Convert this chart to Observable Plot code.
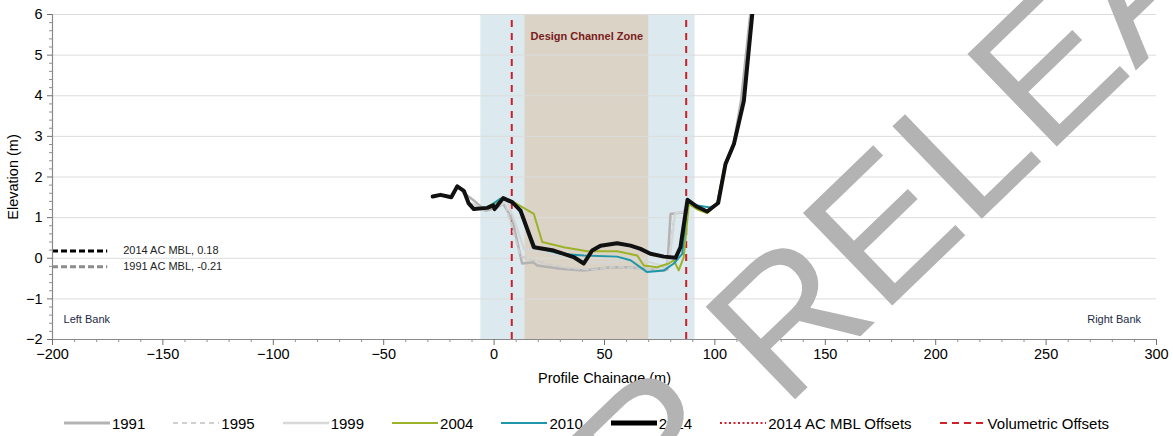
<!DOCTYPE html>
<html>
<head>
<meta charset="utf-8">
<script src="https://cdn.jsdelivr.net/npm/d3@7"></script>
<script src="https://cdn.jsdelivr.net/npm/@observablehq/plot@0.6"></script>
<style>
  html, body { margin: 0; padding: 0; background: #fff; }
  #wrap { position: relative; width: 1173px; height: 436px; overflow: hidden; font-family: 'Liberation Sans', Arial, sans-serif; }
  #legend { display: flex; justify-content: center; align-items: center; gap: 28px; height: 26px; padding-top: 10px; font-family: 'Liberation Sans Narrow', 'Arial Narrow', 'Liberation Sans', sans-serif; font-size: 15px; color: #000; }
  .item { display: flex; align-items: center; gap: 2px; }
  #wm { position: absolute; left: 0; top: 0; pointer-events: none; }
</style>
</head>
<body>
<div id="wrap">
  <div id="chart"></div>
  <div id="legend"></div>
</div>
<script>
// ---- Data ----
const xDomain = [-200, 300];
const yDomain = [-2, 6];
const xMajorTicks = [-200, -150, -100, -50, 0, 50, 100, 150, 200, 250, 300];
const yMajorTicks = [-2, -1, 0, 1, 2, 3, 4, 5, 6];

const outerZone = [-6, 91];        // light blue zone (chainage)
const designZone = [14, 70];       // Design Channel Zone (chainage)
const volumetricOffsets = [8, 87];

const mbl2014 = 0.18;
const mbl1991 = -0.21;

// [chainage, elevation]
const s1991 = [[-14,1.62],[-9.2,1.42],[-3.9,1.17],[1.4,1.25],[4,1.35],[8.2,0.97],[12.7,-0.13],[17.9,-0.10],[19.5,-0.18],[30,-0.26],[40.6,-0.30],[52.7,-0.22],[60.3,-0.22],[67.8,-0.26],[76.9,-0.30],[78.4,-0.28],[79.9,1.09],[85.9,1.13],[88.2,1.42],[92,1.30],[96.5,1.13],[101,1.34],[104.5,2.25],[108.3,2.75],[111.8,3.87],[116,6.0]];
const s1995 = [[-6,1.2],[0,1.3],[5,1.35],[9,0.6],[12,0.05],[18,-0.05],[25,-0.15],[35,-0.25],[45,-0.28],[55,-0.2],[65,-0.25],[75,-0.28],[78,-0.2],[80,0.3],[81,0.8],[82,1.1],[86,1.15],[88,1.4]];
const s1999 = [[-10,1.35],[-4,1.2],[2,1.3],[6,1.4],[10,0.8],[13.5,0.23],[19.5,0.19],[30,0.07],[37.6,-0.01],[43.7,-0.10],[52.7,-0.10],[61.8,-0.01],[70.8,-0.10],[78.4,-0.22],[80,0.2],[82,1.1],[86,1.15],[88.2,1.42]];
const s2004 = [[-2,1.3],[4,1.45],[8.9,1.38],[18,1.09],[21.8,0.40],[31.6,0.27],[42.2,0.17],[55.7,0.17],[64.8,0.07],[67.8,-0.18],[73.9,-0.22],[79.1,-0.13],[81.4,-0.05],[83.6,-0.30],[85.9,0.03],[88.2,1.34],[92,1.2],[96.5,1.11],[101,1.34],[104.6,2.35],[108.6,2.8],[113,3.87],[116.9,6.0]];
const s2010 = [[-3,1.25],[2.9,1.47],[8,1.4],[12,1.13],[18.7,0.27],[27,0.15],[30,0.11],[40.6,0.07],[55.7,0.04],[61.8,-0.05],[69.3,-0.34],[76.9,-0.30],[81.4,-0.13],[85.2,0.11],[87.5,1.38],[92,1.3],[98,1.25],[101,1.34],[104.8,2.3],[108.6,2.8],[113,3.87],[116.9,6.0]];
const s2014 = [[-27.8,1.52],[-24.3,1.56],[-19.4,1.50],[-16.7,1.77],[-13.7,1.66],[-11.5,1.35],[-9.2,1.21],[-3.1,1.24],[-0.4,1.30],[0.2,1.21],[4.1,1.48],[8.2,1.38],[12,1.17],[18,0.27],[27,0.19],[36,0.03],[40.6,-0.13],[44.4,0.19],[48.2,0.31],[55.7,0.37],[61.8,0.31],[66.3,0.23],[70.8,0.11],[76.9,0.04],[82.2,0.01],[84.4,0.27],[87.6,1.44],[91.5,1.28],[96.5,1.15],[101.5,1.36],[104.8,2.32],[108.6,2.81],[113.1,3.87],[116.9,6.0]];

const annotations = [
  {x: -168, y: mbl2014, text: "2014 AC MBL, 0.18"},
  {x: -168, y: mbl1991, text: "1991 AC MBL, -0.21"}
];
const leftBank = [{x: -195, y: -1.5, text: "Left Bank"}];
const rightBank = [{x: 293, y: -1.5, text: "Right Bank"}];
const zoneLabel = [{x: 42, y: 5.46, text: "Design Channel Zone"}];

const legendItems = [
  {label: "1991", color: "#b3b3b3", width: 3, dash: null},
  {label: "1995", color: "#d0d0d0", width: 2, dash: "5,4"},
  {label: "1999", color: "#d8d8d8", width: 2.5, dash: null},
  {label: "2004", color: "#9db228", width: 2, dash: null},
  {label: "2010", color: "#1d97a9", width: 2, dash: null},
  {label: "2014", color: "#000000", width: 5, dash: null},
  {label: "2014 AC MBL Offsets", color: "#d0202a", width: 2, dash: "2,2.5"},
  {label: "Volumetric Offsets", color: "#d0202a", width: 2, dash: "7,5"}
];

// ---- Chart ----
const X = d => d[0], Y = d => d[1];
const minorX = d3.range(-200, 301, 10).filter(v => v % 50 !== 0);
const minorY = d3.range(-20, 61, 2).map(v => v / 10).filter(v => !Number.isInteger(v));

const chart = Plot.plot({
  width: 1173,
  height: 400,
  marginLeft: 52,
  marginRight: 17,
  marginTop: 14,
  marginBottom: 61,
  style: {fontFamily: "'Liberation Sans', Arial, sans-serif", fontSize: "14.5px", background: "#fff", color: "#000"},
  x: {domain: xDomain, label: null},
  y: {domain: yDomain, label: null},
  marks: [
    Plot.rect([outerZone], {x1: d => d[0], x2: d => d[1], y1: yDomain[0], y2: yDomain[1], fill: "#dce9ee"}),
    Plot.rect([designZone], {x1: d => d[0], x2: d => d[1], y1: yDomain[0], y2: yDomain[1], fill: "#dad3c6"}),
    Plot.gridY(yMajorTicks.filter(v => v > yDomain[0]), {stroke: "#dcdcdc", strokeOpacity: 1, strokeWidth: 1}),
    Plot.ruleX(volumetricOffsets, {y1: yDomain[0], y2: yDomain[1], stroke: "#c8202a", strokeWidth: 2, strokeDasharray: "7,6"}),
    Plot.ruleY([mbl2014], {x1: -200, x2: -175, stroke: "#000", strokeWidth: 3, strokeDasharray: "6,3"}),
    Plot.ruleY([mbl1991], {x1: -200, x2: -175, stroke: "#8c8c8c", strokeWidth: 3, strokeDasharray: "6,3"}),
    Plot.text(annotations, {x: "x", y: "y", text: "text", textAnchor: "start", fontSize: 11, fill: "#222"}),
    Plot.text(leftBank, {x: "x", y: "y", text: "text", textAnchor: "start", fontSize: 11, fill: "#1b2a45"}),
    Plot.text(rightBank, {x: "x", y: "y", text: "text", textAnchor: "end", fontSize: 11, fill: "#1b2a45"}),
    Plot.text(zoneLabel, {x: "x", y: "y", text: "text", fontSize: 11, fontWeight: "bold", fill: "#7a1c1c"}),
    Plot.line(s1991, {x: X, y: Y, stroke: "#b3b3b3", strokeWidth: 2.5, clip: true}),
    Plot.line(s1995, {x: X, y: Y, stroke: "#cdcdcd", strokeWidth: 2, strokeDasharray: "5,4", clip: true}),
    Plot.line(s1999, {x: X, y: Y, stroke: "#d6d6d6", strokeWidth: 2.2, clip: true}),
    Plot.line(s2004, {x: X, y: Y, stroke: "#9db228", strokeWidth: 2, clip: true}),
    Plot.line(s2010, {x: X, y: Y, stroke: "#1d97a9", strokeWidth: 2, clip: true}),
    Plot.line(s2014, {x: X, y: Y, stroke: "#111", strokeWidth: 4, strokeLinejoin: "round", clip: true}),
    Plot.ruleX([xDomain[0]], {stroke: "#8a8a8a", strokeWidth: 1.2}),
    Plot.ruleY([yDomain[0]], {stroke: "#8a8a8a", strokeWidth: 1.2}),
    Plot.axisX({ticks: xMajorTicks, tickSize: 6, tickPadding: 3, stroke: "#707070", fill: "#000", label: "Profile Chainage (m)", labelAnchor: "center", labelArrow: "none", labelOffset: 43}),
    Plot.axisX({ticks: minorX, tickSize: 3, stroke: "#909090", tickFormat: () => "", label: null}),
    Plot.axisY({ticks: yMajorTicks, tickSize: 5, tickPadding: 5, stroke: "#707070", fill: "#000", label: "Elevation (m)", labelAnchor: "center", labelArrow: "none", labelOffset: 45}),
    Plot.axisY({ticks: minorY, tickSize: 3, stroke: "#909090", tickFormat: () => "", label: null})
  ]
});
document.getElementById("chart").appendChild(chart);

// ---- Legend ----
const legend = d3.select("#legend");
for (const it of legendItems) {
  const item = legend.append("div").attr("class", "item");
  const sw = item.append("svg").attr("width", 46).attr("height", 10);
  sw.append("line").attr("x1", 0).attr("x2", 46).attr("y1", 5).attr("y2", 5)
    .attr("stroke", it.color).attr("stroke-width", it.width)
    .attr("stroke-dasharray", it.dash);
  item.append("span").text(it.label);
}

// ---- Watermark ----
const wm = d3.select("#wrap").append("svg").attr("id", "wm").attr("width", 1173).attr("height", 436);
const g = wm.append("g").attr("transform", "translate(784,410) rotate(-44)")
  .style("font-family", "'Liberation Sans', Arial, sans-serif").style("font-weight", "normal").style("font-size", "187px").attr("fill", "#b3b3b3");
g.append("text").attr("text-anchor", "start").text("RELEASE");
g.append("text").attr("text-anchor", "end").attr("x", -52).text("NOT FOR");
</script>
</body>
</html>
